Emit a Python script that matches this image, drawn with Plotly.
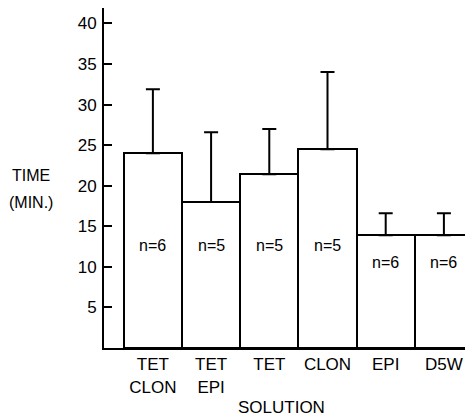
import plotly.graph_objects as go

categories = ["TET<br>CLON", "TET<br>EPI", "TET", "CLON", "EPI", "D5W"]
mean_time = [24.0, 18.0, 21.4, 24.5, 13.9, 13.9]
sd_time = [7.9, 8.6, 5.6, 9.5, 2.7, 2.7]
n_labels = ["n=6", "n=5", "n=5", "n=5", "n=6", "n=6"]
y_ticks = [5, 10, 15, 20, 25, 30, 35, 40]

FONT = "Liberation Sans, Arial, Helvetica, sans-serif"
xpos = list(range(len(categories)))

fig = go.Figure()
fig.add_trace(go.Bar(
    x=xpos, y=mean_time, width=1.0,
    marker=dict(color="white", line=dict(color="black", width=2)),
    error_y=dict(type="data", array=sd_time, arrayminus=[0] * len(sd_time),
                 symmetric=False, color="black", thickness=2, width=7),
    showlegend=False,
))

label_y = [12.6, 12.6, 12.6, 12.6, 10.5, 10.5]
for xi, txt, ly in zip(xpos, n_labels, label_y):
    fig.add_annotation(x=xi, y=ly, text=txt, showarrow=False,
                       font=dict(family=FONT, size=16, color="black"))

fig.add_annotation(xref="paper", yref="y", x=0, y=21.2, xshift=-73, text="TIME",
                   showarrow=False, xanchor="center", font=dict(family=FONT, size=16, color="black"))
fig.add_annotation(xref="paper", yref="y", x=0, y=17.9, xshift=-73, text="(MIN.)",
                   showarrow=False, xanchor="center", font=dict(family=FONT, size=16, color="black"))
fig.add_annotation(xref="paper", yref="paper", x=0.482, y=-0.176, text="SOLUTION",
                   showarrow=False, xanchor="center", yanchor="middle",
                   font=dict(family=FONT, size=17, color="black"))

# the page body adds an 8px offset; margins compensate for it
fig.update_layout(
    width=473, height=420,
    margin=dict(l=96, r=8, t=0, b=80, autoexpand=False),
    paper_bgcolor="white", plot_bgcolor="white",
    font=dict(family=FONT, color="black"),
    bargap=0,
    xaxis=dict(range=[-0.84, 5.5], tickvals=xpos, ticktext=categories,
               showline=True, linecolor="black", linewidth=2, ticks="",
               showgrid=False, zeroline=False, automargin=False,
               tickfont=dict(size=17, family=FONT)),
    yaxis=dict(range=[0, 41.9], tickvals=y_ticks, ticks="inside", ticklen=8,
               tickwidth=2, tickcolor="black", showline=True, linecolor="black",
               linewidth=2, showgrid=False, zeroline=False, automargin=False,
               tickfont=dict(size=17, family=FONT), ticklabelstandoff=2),
)

fig.write_html("out.html")
